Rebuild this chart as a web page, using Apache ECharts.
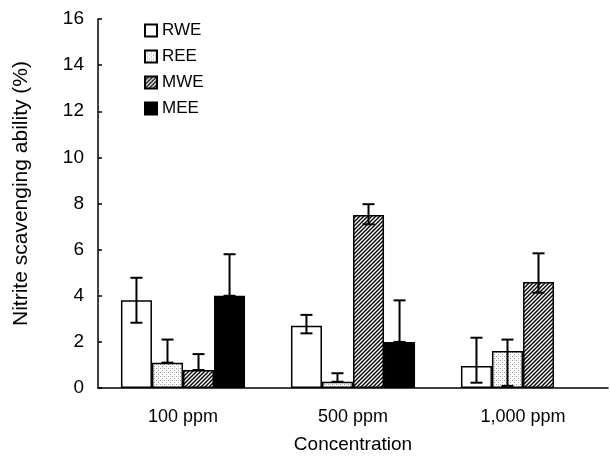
<!DOCTYPE html>
<html style="height: 100%">
<head>
  <meta charset="utf-8">
</head>
<body style="height: 100%; margin: 0; background: #fff">
  <div id="container" style="width: 611px; height: 463px"></div>
  <script type="text/javascript" src="https://cdn.jsdelivr.net/npm/echarts@6/dist/echarts.min.js"></script>
  <script type="text/javascript">
    var categories = ['100 ppm', '500 ppm', '1,000 ppm'];
    var seriesNames = ['RWE', 'REE', 'MWE', 'MEE'];
    var rwe = [3.8, 2.7, 0.95];
    var ree = [1.1, 0.27, 1.6];
    var mwe = [0.78, 7.5, 4.6];
    var mee = [4.0, 2.0, null];
    // error bar ends (low, high) per series and category
    var rweErr = [[2.83, 4.78], [2.37, 3.17], [0.23, 2.18]];
    var reeErr = [[1.1, 2.1], [0.27, 0.64], [0.09, 2.1]];
    var mweErr = [[0.78, 1.47], [7.1, 7.97], [4.13, 5.84]];
    var meeErr = [[4.0, 5.8], [2.0, 3.8], null];
    var yTicks = [0, 2, 4, 6, 8, 10, 12, 14, 16];

    function makeDots() {
      var c = document.createElement('canvas');
      c.width = 4; c.height = 4;
      var g = c.getContext('2d');
      g.fillStyle = '#ffffff';
      g.fillRect(0, 0, 4, 4);
      g.fillStyle = '#9a9a9a';
      g.fillRect(0, 0, 1, 1);
      g.fillRect(2, 2, 1, 1);
      g.fillStyle = '#d0d0d0';
      g.fillRect(2, 0, 1, 1);
      return c;
    }
    function makeHatch() {
      var c = document.createElement('canvas');
      c.width = 4; c.height = 4;
      var g = c.getContext('2d');
      g.fillStyle = '#ffffff';
      g.fillRect(0, 0, 4, 4);
      g.strokeStyle = '#000000';
      g.lineWidth = 1.4;
      g.beginPath();
      g.moveTo(-1, 5); g.lineTo(5, -1);
      g.moveTo(-1, 1); g.lineTo(1, -1);
      g.moveTo(3, 5); g.lineTo(5, 3);
      g.stroke();
      return c;
    }

    var fills = [
      '#ffffff',
      { image: makeDots(), repeat: 'repeat' },
      { image: makeHatch(), repeat: 'repeat' },
      '#000000'
    ];
    var values = [rwe, ree, mwe, mee];
    var errs = [rweErr, reeErr, mweErr, meeErr];
    var catGap = 0.27;

    var errData = [];
    errs.forEach(function (arr, s) {
      arr.forEach(function (e, i) {
        if (e) errData.push([i, e[0], e[1], s]);
      });
    });

    var dom = document.getElementById('container');
    var myChart = echarts.init(dom);

    var series = seriesNames.map(function (name, s) {
      return {
        name: name,
        type: 'bar',
        data: values[s].map(function (v) { return v == null ? '-' : v; }),
        barGap: 0,
        barCategoryGap: '27%',
        itemStyle: {
          color: fills[s],
          borderColor: '#000',
          borderWidth: 1.5
        },
        emphasis: { disabled: true }
      };
    });

    series.push({
      type: 'custom',
      name: 'err',
      data: errData,
      encode: { x: 0, y: [1, 2] },
      z: 10,
      renderItem: function (params, api) {
        var ci = api.value(0);
        var s = api.value(3);
        var band = api.size([1, 0])[0];
        var bw = band * (1 - catGap) / 4;
        var lo = api.coord([ci, api.value(1)]);
        var hi = api.coord([ci, api.value(2)]);
        var x = lo[0] + (s - 1.5) * bw;
        var cap = 6;
        var st = { stroke: '#000', lineWidth: 2 };
        return {
          type: 'group',
          children: [
            { type: 'line', shape: { x1: x, y1: lo[1], x2: x, y2: hi[1] }, style: st },
            { type: 'line', shape: { x1: x - cap, y1: hi[1], x2: x + cap, y2: hi[1] }, style: st },
            { type: 'line', shape: { x1: x - cap, y1: lo[1], x2: x + cap, y2: lo[1] }, style: st }
          ]
        };
      }
    });

    var option = {
      animation: false,
      backgroundColor: '#ffffff',
      textStyle: { fontFamily: 'Liberation Sans, Arial, sans-serif' },
      grid: { left: 98, right: 3, top: 19, bottom: 75, containLabel: false },
      legend: {
        data: seriesNames,
        orient: 'vertical',
        left: 139,
        top: 17,
        itemWidth: 12,
        itemHeight: 12,
        itemGap: 9,
        icon: 'rect',
        textStyle: { fontSize: 17, color: '#000' }
      },
      xAxis: {
        type: 'category',
        data: categories,
        name: 'Concentration',
        nameLocation: 'middle',
        nameGap: 47,
        nameTextStyle: { fontSize: 19, color: '#000' },
        axisLine: { lineStyle: { color: '#000', width: 1.5 } },
        axisTick: { inside: true, length: 6, lineStyle: { color: '#000', width: 1.5 } },
        axisLabel: { fontSize: 18, color: '#000', margin: 20 }
      },
      yAxis: {
        type: 'value',
        min: yTicks[0],
        max: yTicks[yTicks.length - 1],
        interval: 2,
        name: 'Nitrite scavenging ability (%)',
        nameLocation: 'middle',
        nameGap: 66,
        nameTextStyle: { fontSize: 21, color: '#000', padding: [0, 0, 0, 20] },
        axisLine: { show: true, lineStyle: { color: '#000', width: 1.5 } },
        axisTick: { show: true, inside: true, length: 4, lineStyle: { color: '#000', width: 1.5 } },
        axisLabel: { fontSize: 19, color: '#000', margin: 14 },
        splitLine: { show: false }
      },
      series: series
    };
    myChart.setOption(option);
  </script>
</body>
</html>
